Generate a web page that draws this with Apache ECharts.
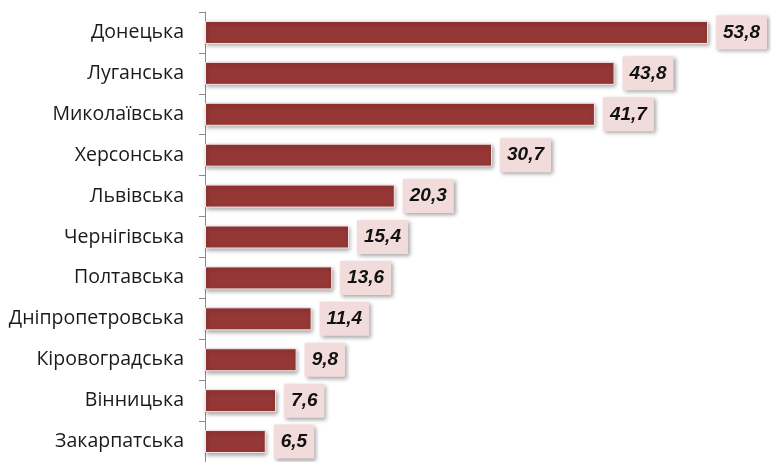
<!DOCTYPE html>
<html>
<head>
<meta charset="utf-8">
<script src="https://cdn.jsdelivr.net/npm/echarts@6/dist/echarts.min.js"></script>
<style>
  html, body { margin: 0; padding: 0; background: #fff; }
  #chart { width: 771px; height: 462px; }
</style>
</head>
<body>
<div id="chart"></div>
<script>
// Regions, top to bottom
const regions = ['Донецька', 'Луганська', 'Миколаївська', 'Херсонська', 'Львівська',
  'Чернігівська', 'Полтавська', 'Дніпропетровська', 'Кіровоградська', 'Вінницька', 'Закарпатська'];
const values = [53.8, 43.8, 41.7, 30.7, 20.3, 15.4, 13.6, 11.4, 9.8, 7.6, 6.5];

const chart = echarts.init(document.getElementById('chart'));
chart.setOption({
  animation: false,
  grid: { left: 205, right: 5, top: 12, bottom: -4, containLabel: false },
  xAxis: {
    type: 'value', min: 0, max: 60, show: false
  },
  yAxis: {
    type: 'category',
    inverse: true,
    data: regions,
    axisLine: { show: true, lineStyle: { color: '#8c8c8c', width: 1 } },
    axisTick: { show: true, length: 6, inside: false, lineStyle: { color: '#8c8c8c' } },
    axisLabel: {
      margin: 21, color: '#1a1a1a', fontSize: 19.5,
      fontFamily: 'Open Sans, sans-serif'
    }
  },
  series: [{
    type: 'bar',
    data: values,
    barWidth: 23,
    itemStyle: {
      color: '#953735',
      borderColor: '#f4e8e8',
      borderWidth: 1,
      shadowColor: 'rgba(0,0,0,0.35)',
      shadowBlur: 4,
      shadowOffsetX: 1,
      shadowOffsetY: 2
    },
    label: {
      show: true,
      position: 'right',
      distance: 8,
      formatter: p => String(p.value).replace('.', ','),
      backgroundColor: '#f2dcdb',
      padding: [8, 7, 7, 7],
      color: '#111',
      fontSize: 19,
      fontWeight: 'bold',
      fontStyle: 'italic',
      fontFamily: 'Liberation Sans, Arial, sans-serif',
      shadowColor: 'rgba(0,0,0,0.35)',
      shadowBlur: 4,
      shadowOffsetX: 2,
      shadowOffsetY: 2
    }
  }]
});
</script>
</body>
</html>
